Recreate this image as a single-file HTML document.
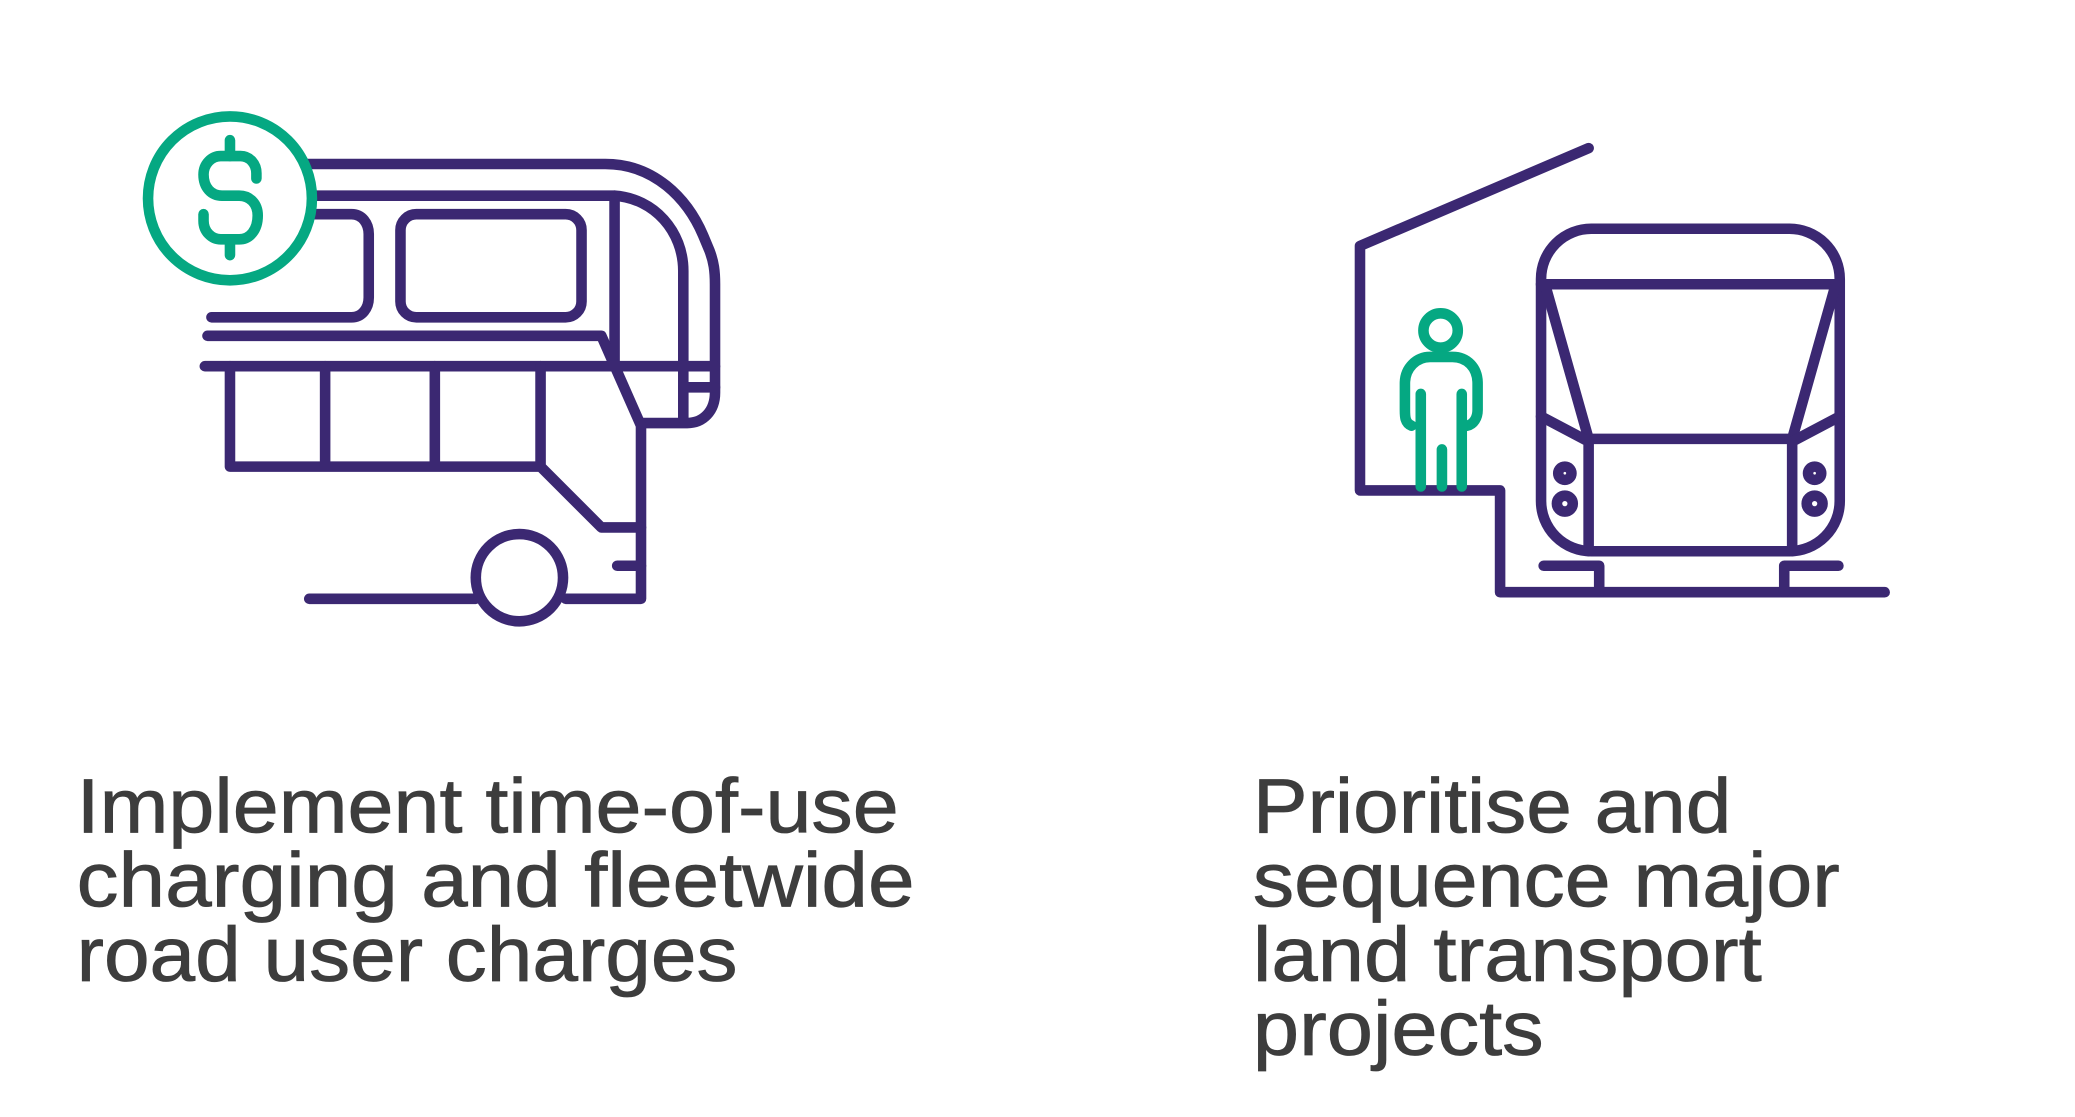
<!DOCTYPE html>
<html><head><meta charset="utf-8"><style>
html,body{margin:0;padding:0;background:#fff;}
svg{display:block}
text{font-family:"Liberation Sans",sans-serif;font-size:58px;fill:#3d3d3d;stroke:#3d3d3d;stroke-width:0.6;}
</style></head><body>
<svg width="2075" height="1117" viewBox="0 0 1570 845" xmlns="http://www.w3.org/2000/svg">
<g fill="none" stroke="#3b2872" stroke-width="8" stroke-linecap="round" stroke-linejoin="round">
<path d="M232,124 H458 C495,124 520,150 532,178 L537,190 C540,198 541,205 541,215 V297 C541,311 532,320 520,320 H486"/>
<path d="M235,148 H465 C495,150 517,175 517,205 V317"/>
<path d="M465,148 V277"/>
<path d="M237,162 H266 C274,162 279,169 279,177 V225 C279,233 274,240 266,240 H160"/>
<rect x="303" y="162" width="137" height="78" rx="12"/>
<path d="M157,254 H455 L485,322 V453 H428"/>
<path d="M155,277 H541"/>
<path d="M517,293 H541"/>
<path d="M174,277 V353 H409 L455,399 H485 M246,277 V353 M329,277 V353 M409,277 V353"/>
<path d="M467,428 H485"/>
<path d="M234,453 H360"/>
<circle cx="393" cy="437" r="33"/>
<path d="M1202,112 L1029,186 V371 H1135 V448 H1426"/>
<rect x="1166" y="173" width="226" height="244" rx="38"/>
<path d="M1166,215 H1392 M1169,215 L1202,332 H1356 L1389,215"/>
<path d="M1166,315 L1202,334 V417 M1392,315 L1356,334 V417"/>
<path d="M1168,428 H1210 V448 M1391,428 H1350 V448"/>
<circle cx="1184" cy="358" r="5"/><circle cx="1184" cy="381" r="6"/>
<circle cx="1373" cy="358" r="5"/><circle cx="1373" cy="381" r="6"/>
</g>
<g fill="none" stroke="#05a882" stroke-width="8" stroke-linecap="round" stroke-linejoin="round">
<circle cx="174" cy="150" r="62" fill="#fff"/>
<path d="M174,106 V118 M174,183 V193"/>
<path d="M194,135 V131 C194,124 189,118 182,118 H167 C160,118 154,124 154,132 C154,142 160,148 168,148 H181 C189,148 195,154 195,163 C195,174 189,181 181,181 H167 C160,181 154,175 154,167 V162"/>
<circle cx="1090" cy="250" r="13"/>
<path d="M1068,322 C1063,320 1063,315 1063,310 V290 C1063,278 1072,270 1082,270 H1099 C1110,270 1118,278 1118,290 V310 C1118,316 1115,321 1110,322"/>
<path d="M1075,298 V368 M1106,298 V368 M1091,340 V368"/>
</g>
<text x="58" y="630" textLength="622" lengthAdjust="spacingAndGlyphs">Implement time-of-use</text>
<text x="58" y="686" textLength="634" lengthAdjust="spacingAndGlyphs">charging and fleetwide</text>
<text x="58" y="742" textLength="500" lengthAdjust="spacingAndGlyphs">road user charges</text>
<text x="948" y="630" textLength="362" lengthAdjust="spacingAndGlyphs">Prioritise and</text>
<text x="948" y="686" textLength="444" lengthAdjust="spacingAndGlyphs">sequence major</text>
<text x="948" y="742" textLength="385" lengthAdjust="spacingAndGlyphs">land transport</text>
<text x="948" y="798" textLength="220" lengthAdjust="spacingAndGlyphs">projects</text>
</svg>
</body></html>
